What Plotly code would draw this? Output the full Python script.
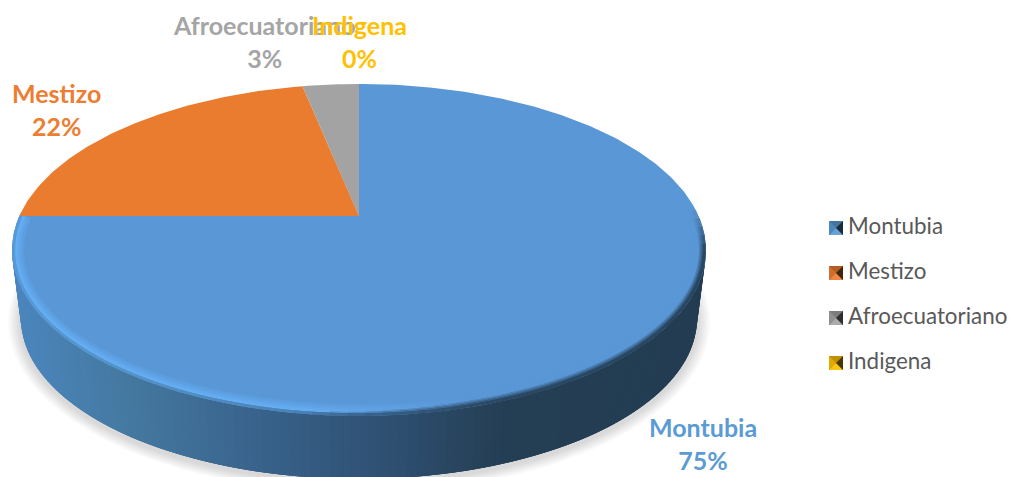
import math
import numpy as np
import plotly.graph_objects as go

categories = ["Montubia", "Mestizo", "Afroecuatoriano", "Indigena"]
values = [75.0, 21.8, 3.2, 0.0]
colors = ["#5B9BD5", "#ED7D31", "#A5A5A5", "#FFC000"]
face_colors = ["#5A97D6", "#EA7C30", "#A3A3A3", "#FFC000"]
percent_labels = [f"{round(v)}%" for v in values]

W, H = 1010, 477
CX, CY, RX, RY = 359.0, 250.0, 347.0, 166.0      # top ellipse
BX, BY, BRX, BRY = 359.0, 319.0, 338.0, 160.0    # bottom ellipse
APEX = (CY - 216.0) / RY                          # perspective shift of the pie centre


def rgb(h):
    h = h.lstrip("#")
    return tuple(int(h[i:i + 2], 16) for i in (0, 2, 4))


def mix(a, b, t):
    t = max(0.0, min(1.0, t))
    return tuple(a[i] + (b[i] - a[i]) * t for i in range(3))


def css(c):
    return "rgb(%d,%d,%d)" % tuple(round(v) for v in c)


def project(theta):
    """Pie angle (clockwise from 12 o'clock) to pixel position on the tilted top face."""
    u, v = math.sin(theta), math.cos(theta)
    d = 1 + APEX * v
    return CX + RX * u * math.sqrt(1 - APEX ** 2) / d, CY - RY * (v + APEX) / d


SIDE_STOPS = [(12, "#4B86BE"), (133, "#44789F"), (267, "#38618A"), (400, "#2D4E6F"),
              (480, "#274159"), (510, "#243E54"), (710, "#233C52")]


def side_color(x):
    for (x0, c0), (x1, c1) in zip(SIDE_STOPS, SIDE_STOPS[1:]):
        if x <= x1:
            return mix(rgb(c0), rgb(c1), (x - x0) / (x1 - x0))
    return rgb(SIDE_STOPS[-1][1])


fig = go.Figure()


def poly(xs, ys, color, line=0):
    fig.add_trace(go.Scatter(x=xs, y=ys, mode="lines", fill="toself", fillcolor=color,
                             line=dict(color=color, width=line), hoverinfo="skip",
                             showlegend=False))


# soft shadow below the disc
phi = np.linspace(0, 2 * math.pi, 120)
for g in range(10, 0, -1):
    poly(list(BX + (BRX + g * 1.3) * np.cos(phi)), list(BY + 3 + (BRY + g * 1.1) * np.sin(phi)),
         "rgba(120,120,120,0.03)")

# side wall: each strip runs under the next one, so no seams show
N = 110
for i in range(N):
    a0, a1 = math.pi * i / N, math.pi * min(i + 3, N) / N
    xs = [CX + RX * math.cos(a0), CX + RX * math.cos(a1), BX + BRX * math.cos(a1), BX + BRX * math.cos(a0)]
    ys = [CY + RY * math.sin(a0), CY + RY * math.sin(a1), BY + BRY * math.sin(a1), BY + BRY * math.sin(a0)]
    xc = CX + (RX - 4) * math.cos(math.pi * (i + 0.5) / N)
    poly(xs, ys, css(side_color(xc)))

# top face slices, built from the values
total = sum(values)
start = 0.0
for val, col in zip(values, face_colors):
    if val > 0:
        end = start + 2 * math.pi * val / total
        pts = [project(t) for t in np.linspace(start, end, max(3, int(val * 4)))]
        ax, ay = CX, CY - RY * APEX
        poly([ax] + [p[0] for p in pts], [ay] + [p[1] for p in pts], col)
    start += 2 * math.pi * val / total

# bevelled rim on the visible front edge
TOP = rgb(face_colors[0])
HL = rgb("#66B0F5")
RINGS = 9
SEG = 70
WIDTH = 12.0
a_lo, a_hi = math.radians(-14), math.radians(192)
step = (a_hi - a_lo) / SEG
for r in range(RINGS):
    t0, t1 = (r - 1) / RINGS, (r + 1) / RINGS
    tm = (r + 0.5) / RINGS
    for i in range(SEG):
        a0 = a_lo + step * i
        a1 = a0 + (2 * step if i < SEG - 1 else step)
        am = a0 + step / 2
        xm = CX + RX * math.cos(am)
        hw = 1 - max(0.0, min(1.0, (xm - 300) / 170))
        fade = min(1.0, (am - a_lo) / math.radians(14))
        mid = mix(TOP, HL, hw)
        brk = 0.5 + 0.38 * hw
        c = mix(TOP, mid, tm / brk) if tm < brk else mix(mid, side_color(xm), (tm - brk) / (1 - brk))
        c = mix(TOP, c, fade)
        d0, d1 = WIDTH * (1 - max(t0, 0)), WIDTH * (1 - t1)
        xs = [CX + (RX - d0) * math.cos(a0), CX + (RX - d0) * math.cos(a1),
              CX + (RX - d1) * math.cos(a1), CX + (RX - d1) * math.cos(a0)]
        ys = [CY + (RY - d0) * math.sin(a0), CY + (RY - d0) * math.sin(a1),
              CY + (RY - d1) * math.sin(a1), CY + (RY - d1) * math.sin(a0)]
        poly(xs, ys, css(c))

# legend: bevelled swatches plus text
LEG_X, LEG_Y, LEG_STEP, S = 836.0, 228.0, 45.0, 7.0
for i, (name, col) in enumerate(zip(categories, colors)):
    y = LEG_Y + i * LEG_STEP
    base = rgb(col)
    black = (0, 0, 0)
    poly([LEG_X - S, LEG_X + S, LEG_X + S, LEG_X - S], [y - S, y - S, y + S, y + S], css(mix(base, black, 0.2)))
    poly([LEG_X - S, LEG_X + S, LEG_X], [y - S, y - S, y], css(mix(base, black, 0.25)))
    poly([LEG_X - S, LEG_X + S, LEG_X], [y + S, y + S, y], css(mix(base, (255, 255, 255), 0.08)))
    poly([LEG_X - S, LEG_X - S, LEG_X], [y - S, y + S, y], css(mix(base, black, 0.12)))
    poly([LEG_X + S, LEG_X + S, LEG_X], [y - S, y + S, y], css(mix(base, black, 0.72)))

fig.add_trace(go.Scatter(
    x=[LEG_X + 12] * len(categories),
    y=[LEG_Y + i * LEG_STEP for i in range(len(categories))],
    mode="text", text=categories, textposition="middle right",
    textfont=dict(family="Lato", size=22.4, color="#595959"),
    hoverinfo="skip", showlegend=False, cliponaxis=False))

# data labels
label_pos = [(703, 443), (56, 109), (264, 41), (359, 41)]
annos = [dict(x=p[0], y=p[1], xref="x", yref="y", showarrow=False, align="center",
              text=f"<b>{n}<br>{t}</b>", font=dict(family="Lato", size=25, color=c))
         for n, t, c, p in zip(categories, percent_labels, colors, label_pos)]

fig.update_layout(
    width=W, height=H, margin=dict(l=0, r=0, t=0, b=0), autosize=False,
    paper_bgcolor="white", plot_bgcolor="white", showlegend=False, annotations=annos,
    xaxis=dict(range=[0, W], visible=False, fixedrange=True),
    yaxis=dict(range=[H, 0], visible=False, fixedrange=True),
)
fig.write_html("out.html", config=dict(displayModeBar=False),
               post_script="document.body.style.margin='0';document.body.style.overflow='hidden';")
